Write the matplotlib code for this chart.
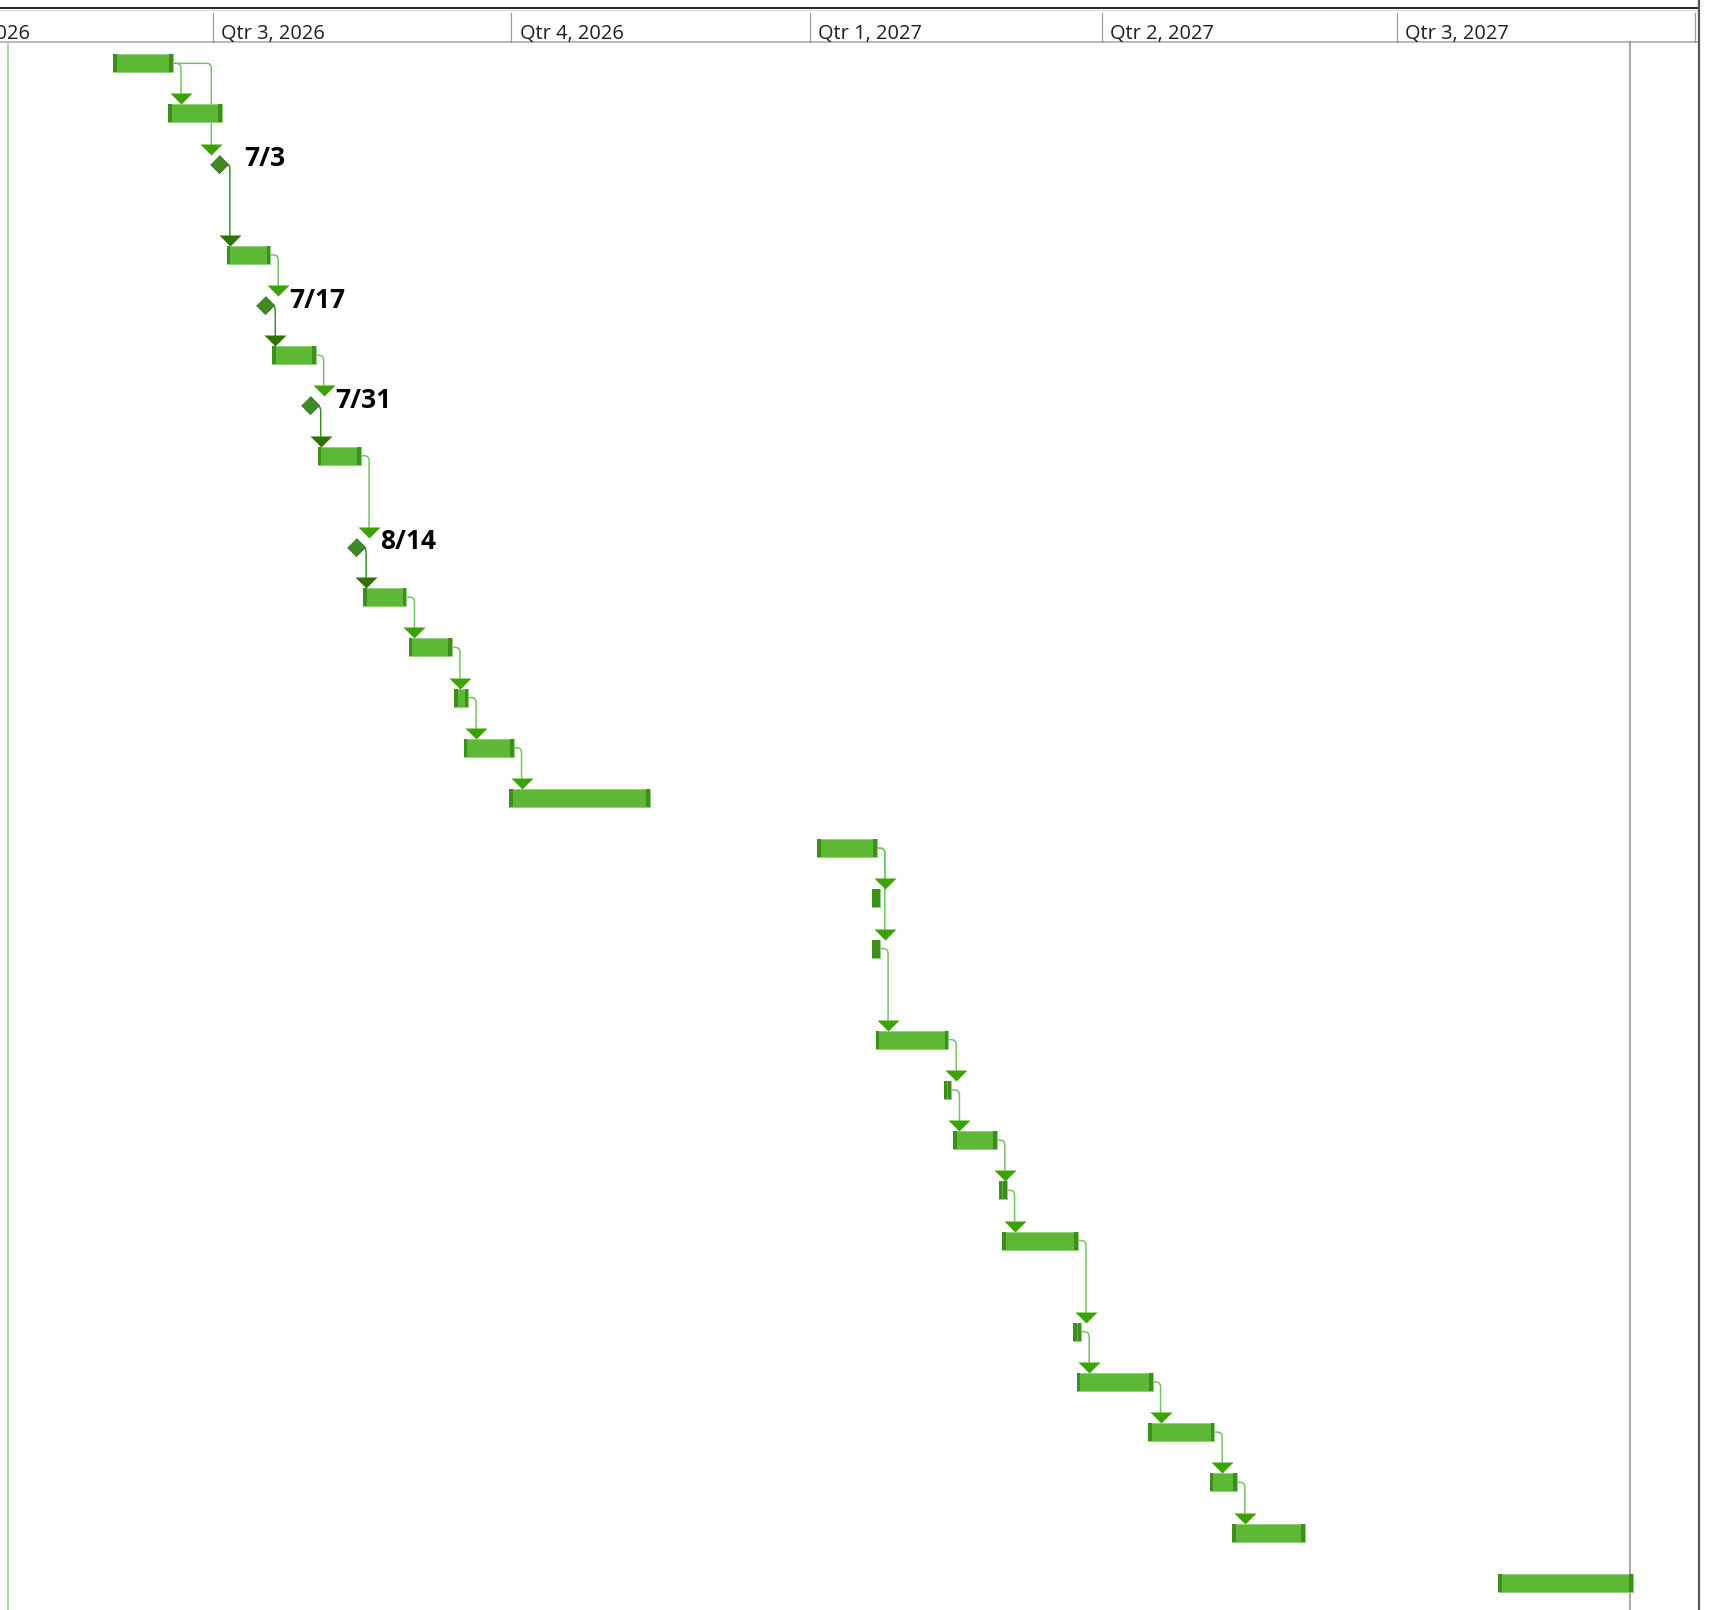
import datetime as dt
import matplotlib
matplotlib.use('Agg')
import matplotlib.pyplot as plt
import matplotlib.dates as mdates
from matplotlib.patches import Rectangle, PathPatch
from matplotlib.path import Path
from matplotlib.lines import Line2D

# tasks, top to bottom (milestones have start == finish)
starts = ['2026-05-31', '2026-06-17', '2026-07-03', '2026-07-05', '2026-07-17',
          '2026-07-19', '2026-07-31', '2026-08-02', '2026-08-14', '2026-08-16',
          '2026-08-30', '2026-09-13', '2026-09-16', '2026-09-30', '2027-01-03',
          '2027-01-20', '2027-01-20', '2027-01-21', '2027-02-11', '2027-02-14',
          '2027-02-28', '2027-03-01', '2027-03-23', '2027-03-24', '2027-04-15',
          '2027-05-04', '2027-05-11', '2027-08-01']
finishes = ['2026-06-18', '2026-07-03', '2026-07-03', '2026-07-18', '2026-07-17',
            '2026-08-01', '2026-07-31', '2026-08-15', '2026-08-14', '2026-08-29',
            '2026-09-12', '2026-09-17', '2026-10-01', '2026-11-12', '2027-01-21',
            '2027-01-22', '2027-01-22', '2027-02-12', '2027-02-13', '2027-02-27',
            '2027-03-02', '2027-03-24', '2027-03-25', '2027-04-16', '2027-05-05',
            '2027-05-12', '2027-06-02', '2027-09-11']
milestone_labels = {2: '7/3', 4: '7/17', 6: '7/31', 8: '8/14'}
# number of text lines of each task row in the table (wrapped names make taller rows)
row_lines = [1, 1, 1, 2, 1, 1, 1, 1, 2, 1, 1, 1, 1, 1,
             1, 1, 1, 2, 1, 1, 1, 1, 2, 1, 1, 1, 1, 1]
# finish-to-start links (predecessor, successor)
links = [(0, 1), (0, 2), (2, 3), (3, 4), (4, 5), (5, 6), (6, 7), (7, 8), (8, 9),
         (9, 10), (10, 11), (11, 12), (12, 13), (14, 15), (14, 16), (16, 17),
         (17, 18), (18, 19), (19, 20), (20, 21), (21, 22), (22, 23), (23, 24),
         (24, 25), (25, 26)]

quarter_starts = ['2026-04-01', '2026-07-01', '2026-10-01', '2027-01-01',
                  '2027-04-01', '2027-07-01', '2027-10-01']
# the last quarter's label falls outside the visible pane
quarter_labels = ['Qtr 2, 2026', 'Qtr 3, 2026', 'Qtr 4, 2026', 'Qtr 1, 2027',
                  'Qtr 2, 2027', 'Qtr 3, 2027', '']
project_start = '2026-04-29'
project_finish = '2027-09-11'

# layout (pixels)
W, H = 1715, 1610
PANE_W = 1698.7
PX_DAY = 3.2438
ROW1, ROW2 = 50.2, 91.2
BAR_H = 18
PT = 0.72  # points per pixel at 100 dpi

BAR_C = '#5DB836'
CAP_C = '#3E8E1E'
ARROW_C = '#3BA300'
ARROW_DARK = '#2E7300'
LINK_C = '#72C45E'
LINK_DARK = '#3F8E22'


def num(s, hours=0):
    return mdates.date2num(dt.datetime.fromisoformat(s) + dt.timedelta(hours=hours))


fig = plt.figure(figsize=(W / 100, H / 100), dpi=100)
ax = fig.add_axes([0, 0, PANE_W / W, 1])
x0 = num('2026-07-01') - 212.8 / PX_DAY
x1 = x0 + PANE_W / PX_DAY
ax.set_xlim(x0, x1)
ax.set_ylim(H, 0)
ax.axis('off')

# row centres
yc = []
top = 38.2
for n in row_lines:
    top += ROW1 if n == 1 else ROW2
    yc.append(top - ROW1 / 2)

ms_flags = [i in milestone_labels for i in range(len(starts))]
s_num = [num(s) if m else num(s, 8) for s, m in zip(starts, ms_flags)]
f_num = [num(f) if m else num(f, 17) for f, m in zip(finishes, ms_flags)]

# header
ax.plot([x0, x1], [8, 8], color='#2b2b2b', lw=2 * PT)
ax.plot([x0, x1], [10, 10], color='#d8d8d8', lw=1 * PT)
ax.plot([x0, x1], [42, 42], color='#a8a8a8', lw=1.6 * PT)
for q, lab in zip(quarter_starts, quarter_labels):
    qx = num(q)
    ax.plot([qx, qx], [13, 42], color='#9a9a9a', lw=1.2 * PT)
    if lab:
        ax.annotate(lab, (qx, 39.3), xytext=(8.5 * PT, 0), textcoords='offset points',
                    fontsize=14.4, family='Open Sans', color='#1e1e1e', va='baseline',
                    annotation_clip=False, clip_on=True)

# project start / finish lines
ax.plot([num(project_start)] * 2, [42, H], color='#93d48c', lw=1.6 * PT)
ax.plot([num(project_finish)] * 2, [42, H], color='#8c8c8c', lw=1.5 * PT)
fig.add_artist(Line2D([PANE_W / W] * 2, [0, 1], color='#555555', lw=2.2 * PT))

# links
rx = 5 / PX_DAY
for p, s in links:
    if ms_flags[p]:
        p_end = s_num[p] + 2 / PX_DAY
    else:
        p_end = f_num[p]
    if ms_flags[s]:
        target = s_num[s] - 8 / PX_DAY
    else:
        target = s_num[s] + 3 / PX_DAY
    drop = max(p_end + 8 / PX_DAY, target)
    y0 = yc[p]
    tip = yc[s] - 9
    yb = tip - 10
    path = Path([(p_end, y0), (drop - rx, y0), (drop, y0), (drop, y0 + 5), (drop, yb)],
                [Path.MOVETO, Path.LINETO, Path.CURVE3, Path.CURVE3, Path.LINETO])
    ax.add_patch(PathPatch(path, fill=False, color=LINK_DARK if ms_flags[p] else LINK_C,
                           lw=1.5 * PT, zorder=2))
    ax.plot([drop], [tip], marker=[(-1, 1), (1, 1), (0, 0)], ms=22 * PT,
            color=ARROW_DARK if ms_flags[p] else ARROW_C, mew=0, zorder=5)

# bars and milestones
cap = 3.6 / PX_DAY
for i in range(len(starts)):
    if ms_flags[i]:
        ax.plot([s_num[i]], [yc[i]], marker=[(0, 1), (1, 0), (0, -1), (-1, 0)],
                ms=18 * PT, color='#3F8A25', mec='#2f6f18', mew=0.6, zorder=4)
        ax.annotate(milestone_labels[i], (s_num[i], yc[i]), xytext=(25 * PT, -2.5 * PT),
                    textcoords='offset points', fontsize=19, fontweight='bold',
                    family='Open Sans', color='black', va='baseline')
        continue
    w = f_num[i] - s_num[i]
    ax.add_patch(Rectangle((s_num[i], yc[i] - BAR_H / 2), w, BAR_H, facecolor=BAR_C,
                           edgecolor='#8fcf78', lw=0.6, zorder=3))
    ax.add_patch(Rectangle((s_num[i], yc[i] - BAR_H / 2), cap, BAR_H, facecolor=CAP_C,
                           edgecolor='none', zorder=3))
    ax.add_patch(Rectangle((f_num[i] - cap, yc[i] - BAR_H / 2), cap, BAR_H,
                           facecolor=CAP_C, edgecolor='none', zorder=3))

fig.savefig('out.png', dpi=100)
